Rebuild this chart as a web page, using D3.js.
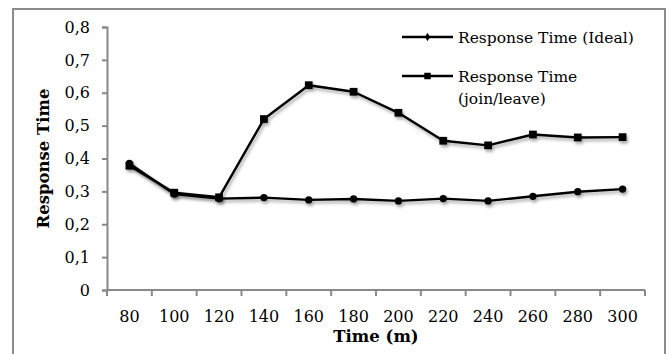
<!DOCTYPE html>
<html>
<head>
<meta charset="utf-8">
<script src="https://cdn.jsdelivr.net/npm/d3@7"></script>
<style>
  html, body { margin: 0; padding: 0; background: #fff; }
  svg { display: block; }
  text { font-family: "DejaVu Serif", "Liberation Serif", serif; fill: #000; }
</style>
</head>
<body>
<svg id="chart" width="671" height="354"></svg>
<script>
// Time points (minutes)
const times = ["80", "100", "120", "140", "160", "180", "200", "220", "240", "260", "280", "300"];
// Response time, ideal case
const idealValues = [0.385, 0.292, 0.278, 0.281, 0.274, 0.277, 0.271, 0.278, 0.271, 0.285, 0.299, 0.307];
// Response time with nodes joining / leaving
const joinLeaveValues = [0.378, 0.296, 0.282, 0.520, 0.623, 0.603, 0.539, 0.454, 0.440, 0.473, 0.464, 0.465];
const yTicks = [0, 0.1, 0.2, 0.3, 0.4, 0.5, 0.6, 0.7, 0.8];
const seriesNames = ["Response Time (Ideal)", "Response Time (join/leave)"];

const svg = d3.select("#chart");
const plot = { left: 107, right: 645, top: 27, bottom: 290 };
const axisColor = "#898989";

// soft shadow beneath the series
const defs = svg.append("defs");
const f = defs.append("filter").attr("id", "shadow")
  .attr("x", "-10%").attr("y", "-10%").attr("width", "130%").attr("height", "140%");
f.append("feDropShadow").attr("dx", 1.5).attr("dy", 2.5).attr("stdDeviation", 1.4)
  .attr("flood-color", "#000").attr("flood-opacity", 0.35);

// outer frame
svg.append("rect")
  .attr("x", 13).attr("y", 9).attr("width", 652).attr("height", 360)
  .attr("fill", "none").attr("stroke", "#8c8c8c").attr("stroke-width", 2);

const x = d3.scaleBand().domain(times).range([plot.left, plot.right]);
const y = d3.scaleLinear().domain([0, 0.8]).range([plot.bottom, plot.top]);
const fmt = d3.formatLocale({ decimal: ",", thousands: ".", grouping: [3], currency: ["", ""] }).format(".1f");

// y axis
const yAxis = svg.append("g").attr("transform", `translate(${plot.left},0)`)
  .call(d3.axisLeft(y).tickValues(yTicks).tickSize(5).tickPadding(12)
    .tickFormat(d => d === 0 ? "0" : fmt(d)));
yAxis.select(".domain").attr("stroke", axisColor).attr("stroke-width", 2);
yAxis.selectAll(".tick line").attr("stroke", axisColor).attr("stroke-width", 2);
yAxis.selectAll(".tick text").attr("font-size", 16).attr("font-family", "DejaVu Serif");

// x axis: ticks sit on category boundaries
const xAxisG = svg.append("g").attr("transform", `translate(0,${plot.bottom})`);
xAxisG.append("line").attr("x1", plot.left).attr("x2", plot.right)
  .attr("stroke", axisColor).attr("stroke-width", 2);
const bounds = times.map(t => x(t)).concat([x(times[times.length - 1]) + x.bandwidth()]);
xAxisG.selectAll("line.tk").data(bounds).join("line").attr("class", "tk")
  .attr("x1", d => d).attr("x2", d => d).attr("y1", 0).attr("y2", 6)
  .attr("stroke", axisColor).attr("stroke-width", 2);
xAxisG.selectAll("text").data(times).join("text")
  .attr("x", d => x(d) + x.bandwidth() / 2).attr("y", 31.5)
  .attr("text-anchor", "middle").attr("font-size", 16).text(d => d);

// axis titles
svg.append("text").attr("x", (plot.left + plot.right) / 2).attr("y", 342)
  .attr("text-anchor", "middle").attr("font-size", 16.5).attr("font-weight", "bold")
  .text("Time (m)");
svg.append("text").attr("transform", `translate(49,${(plot.top + plot.bottom) / 2}) rotate(-90)`)
  .attr("text-anchor", "middle").attr("font-size", 16.5).attr("font-weight", "bold")
  .text("Response Time");

const cx = d => x(d) + x.bandwidth() / 2;
const line = d3.line().x(d => cx(d.t)).y(d => y(d.v));
const dot = d3.symbol().type(d3.symbolCircle);
const diamond = d3.symbol().type(d3.symbolDiamond);
const square = d3.symbol().type(d3.symbolSquare);

function drawSeries(values, sym, size) {
  const data = times.map((t, i) => ({ t, v: values[i] }));
  const g = svg.append("g").attr("filter", "url(#shadow)");
  g.append("path").datum(data).attr("d", line)
    .attr("fill", "none").attr("stroke", "#000").attr("stroke-width", 2.4)
    .attr("stroke-linejoin", "round");
  g.selectAll("path.mk").data(data).join("path").attr("class", "mk")
    .attr("transform", d => `translate(${cx(d.t)},${y(d.v)})`)
    .attr("d", sym.size(size)()).attr("fill", "#000");
}
drawSeries(idealValues, dot, 42);
drawSeries(joinLeaveValues, square, 60);

// legend
const leg = svg.append("g");
const legRows = [
  { y: 37, sym: diamond, size: 22, lines: [seriesNames[0]] },
  { y: 76, sym: square, size: 42, lines: ["Response Time", "(join/leave)"] }
];
legRows.forEach(r => {
  leg.append("line").attr("x1", 402).attr("x2", 453).attr("y1", r.y).attr("y2", r.y)
    .attr("stroke", "#000").attr("stroke-width", 2.4);
  leg.append("path").attr("transform", `translate(427.5,${r.y})`)
    .attr("d", r.sym.size(r.size)()).attr("fill", "#000");
  r.lines.forEach((s, i) => {
    leg.append("text").attr("x", 458).attr("y", r.y + 5.5 + i * 22)
      .attr("font-size", 15.5).text(s);
  });
});
</script>
</body>
</html>
